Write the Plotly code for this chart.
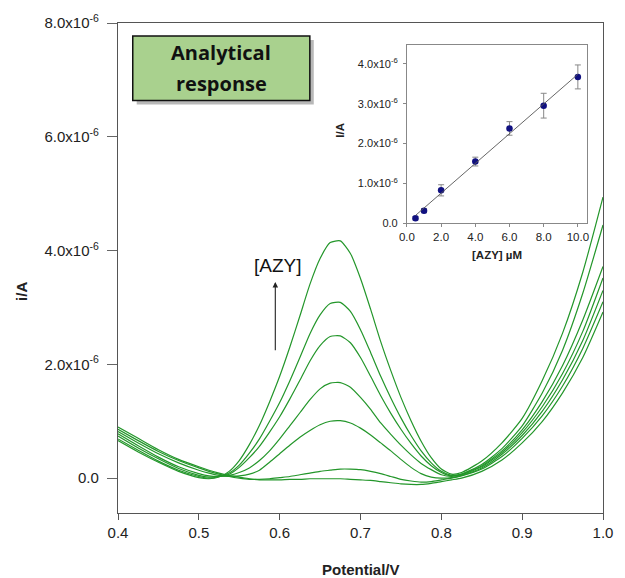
import plotly.graph_objects as go
import numpy as np

# ---------------- data ----------------
potential = [0.400, 0.425, 0.450, 0.475, 0.500, 0.5125, 0.525, 0.5375, 0.550, 0.5625,
             0.575, 0.5875, 0.600, 0.6125, 0.625, 0.6375, 0.650, 0.6625, 0.675, 0.6875,
             0.700, 0.7125, 0.725, 0.7375, 0.750, 0.7625, 0.775, 0.7875, 0.800, 0.8125,
             0.825, 0.850, 0.875, 0.900, 0.925, 0.950, 0.975, 1.000]

# currents in units of 1e-6 A (one list per concentration, lowest first)
curve1 = [0.90, 0.70, 0.50, 0.33, 0.20, 0.14, 0.09, 0.05, 0.02, -0.01,
          -0.03, -0.03, -0.03, -0.02, -0.02, -0.01, -0.01, -0.01, -0.01, -0.02,
          -0.03, -0.04, -0.06, -0.08, -0.10, -0.11, -0.11, -0.09, -0.06, -0.03,
          0.00, 0.12, 0.32, 0.62, 1.00, 1.50, 2.12, 2.92]
curve2 = [0.86, 0.66, 0.47, 0.31, 0.18, 0.12, 0.07, 0.03, 0.00, -0.02,
          -0.02, -0.01, 0.01, 0.03, 0.06, 0.09, 0.12, 0.14, 0.16, 0.16,
          0.15, 0.12, 0.08, 0.03, -0.02, -0.05, -0.07, -0.06, -0.03, 0.00,
          0.04, 0.16, 0.38, 0.70, 1.10, 1.62, 2.28, 3.10]
curve3 = [0.82, 0.62, 0.43, 0.27, 0.14, 0.09, 0.05, 0.03, 0.04, 0.07,
          0.14, 0.28, 0.43, 0.58, 0.72, 0.84, 0.94, 1.00, 1.01, 0.97,
          0.88, 0.76, 0.62, 0.48, 0.33, 0.19, 0.08, 0.02, 0.00, 0.01,
          0.05, 0.18, 0.42, 0.75, 1.18, 1.73, 2.42, 3.30]
curve4 = [0.78, 0.57, 0.37, 0.20, 0.08, 0.04, 0.03, 0.05, 0.10, 0.18,
          0.31, 0.48, 0.69, 0.92, 1.15, 1.38, 1.57, 1.67, 1.68, 1.60,
          1.42, 1.21, 0.97, 0.77, 0.58, 0.41, 0.26, 0.15, 0.06, 0.03,
          0.06, 0.20, 0.45, 0.80, 1.26, 1.84, 2.58, 3.52]
curve5 = [0.74, 0.53, 0.34, 0.17, 0.05, 0.02, 0.03, 0.07, 0.19, 0.36,
          0.56, 0.81, 1.08, 1.39, 1.72, 2.06, 2.33, 2.49, 2.50, 2.38,
          2.12, 1.79, 1.45, 1.14, 0.86, 0.61, 0.39, 0.22, 0.10, 0.04,
          0.07, 0.22, 0.48, 0.85, 1.35, 1.98, 2.78, 3.72]
curve6 = [0.69, 0.49, 0.30, 0.14, 0.03, 0.00, 0.03, 0.09, 0.23, 0.44,
          0.69, 1.00, 1.33, 1.71, 2.12, 2.54, 2.87, 3.07, 3.09, 2.93,
          2.61, 2.21, 1.79, 1.41, 1.06, 0.75, 0.48, 0.27, 0.12, 0.05,
          0.07, 0.24, 0.52, 0.92, 1.50, 2.25, 3.25, 4.45]
curve7 = [0.66, 0.46, 0.28, 0.12, 0.01, -0.01, 0.02, 0.12, 0.31, 0.59,
          0.93, 1.34, 1.79, 2.30, 2.85, 3.41, 3.86, 4.14, 4.17, 3.95,
          3.51, 2.97, 2.40, 1.89, 1.42, 1.01, 0.65, 0.36, 0.16, 0.07,
          0.10, 0.30, 0.62, 1.05, 1.72, 2.55, 3.62, 4.94]
curves = [curve1, curve2, curve3, curve4, curve5, curve6, curve7]

# inset calibration
conc = [0.5, 1.0, 2.0, 4.0, 6.0, 8.0, 10.0]                 # uM
peak_current = [0.13, 0.32, 0.83, 1.55, 2.38, 2.95, 3.67]    # 1e-6 A
peak_err = [0.04, 0.05, 0.14, 0.11, 0.17, 0.31, 0.30]        # 1e-6 A

main_yticks = [0.0, 2.0, 4.0, 6.0, 8.0]
main_xticks = [0.4, 0.5, 0.6, 0.7, 0.8, 0.9, 1.0]
inset_yticks = [0.0, 1.0, 2.0, 3.0, 4.0]
inset_xticks = [0.0, 2.0, 4.0, 6.0, 8.0, 10.0]

E6 = 1e-6


def sci_label(v):
    return "0.0" if v == 0 else f"{v:.1f}x10<sup>-6</sup>"


FONT = "Liberation Sans"
GREEN = "#23962a"

fig = go.Figure()

for c in curves:
    fig.add_trace(go.Scatter(
        x=potential, y=[v * E6 for v in c], mode="lines",
        line=dict(color=GREEN, width=1.2, shape="spline", smoothing=0.6),
        showlegend=False, hoverinfo="skip"))

# inset: calibration points and fit
fig.add_trace(go.Scatter(
    x=conc, y=[v * E6 for v in peak_current], mode="markers",
    marker=dict(color="#101080", size=6.5),
    error_y=dict(type="data", array=[e * E6 for e in peak_err], color="#888888",
                 thickness=1, width=3),
    xaxis="x2", yaxis="y2", showlegend=False))

slope, intercept = np.polyfit(conc, peak_current, 1)
fit_x = [conc[0], conc[-1]]
fit_y = [(slope * x + intercept) * E6 for x in fit_x]
fig.add_trace(go.Scatter(
    x=fit_x, y=fit_y, mode="lines", line=dict(color="#555555", width=0.9),
    xaxis="x2", yaxis="y2", showlegend=False))

# geometry
L, R, T, B = 118, 14, 20, 65
W, H = 625, 578
pw, ph = W - L - R, H - T - B


def px2paper_x(px):
    return (px - L) / pw


def px2paper_y(py):
    return (H - B - py) / ph


inset_x0, inset_x1 = px2paper_x(411.7), px2paper_x(595)
inset_y0, inset_y1 = px2paper_y(221.7), px2paper_y(41.7)

fig.update_layout(
    width=W, height=H,
    margin=dict(l=L, r=R, t=T, b=B, pad=0),
    paper_bgcolor="white", plot_bgcolor="white",
    font=dict(family=FONT, color="#222222"),
    xaxis=dict(range=[0.4, 1.0], tickvals=main_xticks,
               ticktext=[f"{v:.1f}" for v in main_xticks],
               showgrid=False, zeroline=False, showline=True, mirror=True,
               linecolor="#555555", linewidth=1.3, ticks="outside", ticklen=6,
               tickcolor="#555555", tickfont=dict(size=15, family=FONT, color="#222222")),
    yaxis=dict(range=[-0.612e-6, 8.0e-6], tickvals=[v * E6 for v in main_yticks],
               ticktext=[sci_label(v) for v in main_yticks],
               showgrid=False, zeroline=False, showline=True, mirror=True,
               linecolor="#555555", linewidth=1.3, ticks="outside", ticklen=10,
               ticklabelstandoff=5,
               tickcolor="#666666", tickfont=dict(size=15, family=FONT, color="#222222")),
    xaxis2=dict(domain=[inset_x0, inset_x1], anchor="y2", range=[0.0, 10.55],
                tickvals=inset_xticks, ticktext=[f"{v:.1f}" for v in inset_xticks],
                showgrid=False, zeroline=False, showline=True, mirror=True,
                linecolor="#888888", linewidth=1, ticks="outside", ticklen=3,
                tickcolor="#888888", tickfont=dict(size=11.5, family=FONT, color="#222222")),
    yaxis2=dict(domain=[inset_y0, inset_y1], anchor="x2", range=[0.0, 4.48e-6],
                tickvals=[v * E6 for v in inset_yticks],
                ticktext=[sci_label(v) for v in inset_yticks],
                showgrid=False, zeroline=False, showline=True, mirror=True,
                linecolor="#888888", linewidth=1, ticks="outside", ticklen=3,
                ticklabelstandoff=3,
                tickcolor="#888888", tickfont=dict(size=11, family=FONT, color="#222222")),
)

# green label box with shadow
bx0, bx1 = px2paper_x(133), px2paper_x(313)
by0, by1 = px2paper_y(98), px2paper_y(33)
sx, sy = 4 / pw, 4 / ph
fig.add_shape(type="rect", xref="paper", yref="paper", x0=bx0 + sx, x1=bx1 + sx,
              y0=by0 - sy, y1=by1 - sy, fillcolor="rgba(0,0,0,0.28)", line=dict(width=0))
fig.add_shape(type="rect", xref="paper", yref="paper", x0=bx0, x1=bx1, y0=by0, y1=by1,
              fillcolor="#a9d18e", line=dict(color="#111111", width=1.5))

BOXFONT = "Open Sans"
annotations = [
    dict(text="<b>Analytical</b>", x=(bx0 + bx1) / 2, y=px2paper_y(50),
         font=dict(family=BOXFONT, size=20, color="#111111")),
    dict(text="<b>response</b>", x=(bx0 + bx1) / 2, y=px2paper_y(81),
         font=dict(family=BOXFONT, size=20, color="#111111")),
    dict(text="<b>Potential/V</b>", x=0.5, y=px2paper_y(570),
         font=dict(size=15, family=FONT, color="#222222")),
    dict(text="<b>i/A</b>", x=px2paper_x(20), y=px2paper_y(290), textangle=-90,
         font=dict(size=15, family=FONT, color="#222222")),
    dict(text="<b>[AZY] µM</b>", x=(inset_x0 + inset_x1) / 2, y=px2paper_y(253),
         font=dict(size=11.5, family=FONT, color="#222222")),
    dict(text="<b>I/A</b>", x=px2paper_x(344), y=px2paper_y(128), textangle=-90,
         font=dict(size=11.5, family=FONT, color="#222222")),
]
for a in annotations:
    a.update(xref="paper", yref="paper", showarrow=False, xanchor="center", yanchor="middle")
    fig.add_annotation(**a)

# [AZY] label and arrow
fig.add_annotation(text="[AZY]", x=0.598, y=3.74e-6, xref="x", yref="y", showarrow=False,
                   font=dict(size=19, family=FONT, color="#111111"))
fig.add_annotation(x=0.5946, y=3.45e-6, ax=0.5946, ay=2.22e-6, xref="x", yref="y",
                   axref="x", ayref="y", text="", showarrow=True, arrowhead=2,
                   arrowsize=1, arrowwidth=1.1, arrowcolor="#222222")

fig.write_html("out.html")
